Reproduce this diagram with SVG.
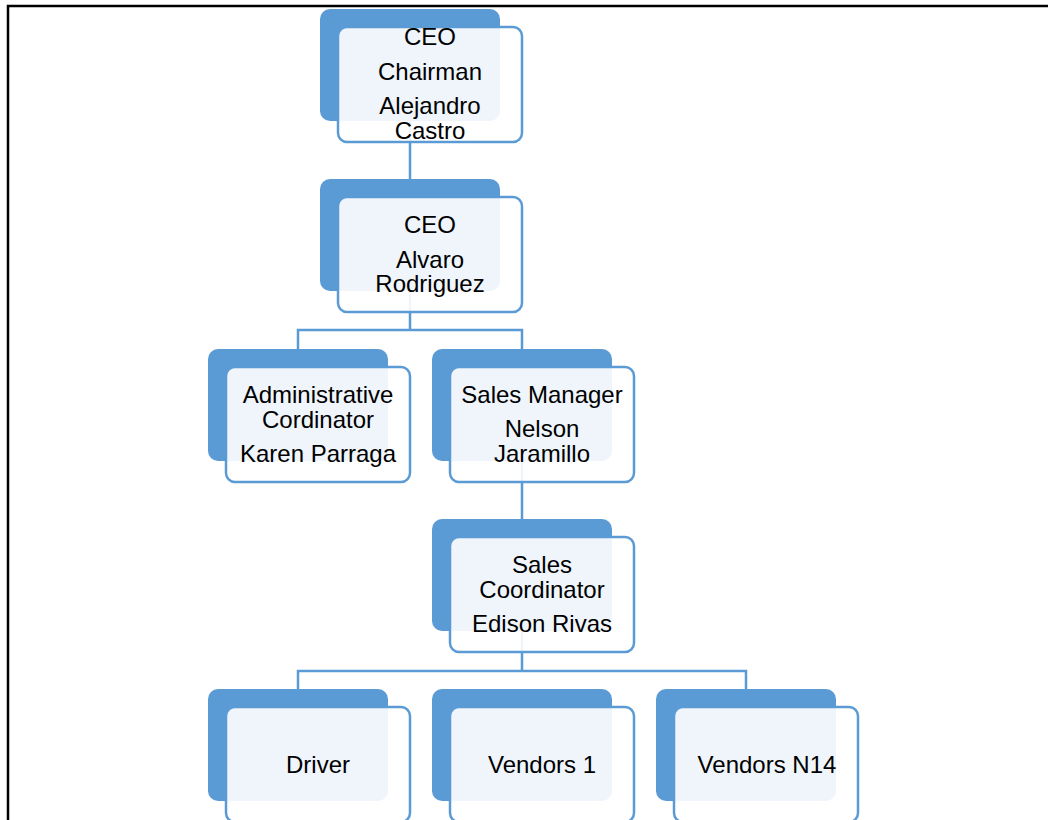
<svg xmlns="http://www.w3.org/2000/svg" width="1048" height="820" viewBox="0 0 1048 820">
<style>
.back{fill:#5B9BD5;}
.front{fill:#ffffff;fill-opacity:0.9;stroke:#5B9BD5;stroke-width:2.5;}
.con{fill:none;stroke:#5B9BD5;stroke-width:2.5;}
text{font-family:"Liberation Sans",Arial,sans-serif;font-size:24px;fill:#000;text-anchor:middle;}
</style>
<rect width="1048" height="820" fill="#fff"/>
<path d="M8 820 V6 H1048" fill="none" stroke="#000" stroke-width="2.5"/>
<g id="connectors">
<path class="con" d="M410 121 V179"/>
<path class="con" d="M410 291 V330 M298 349 V330 H522 V349"/>
<path class="con" d="M522 461 V519"/>
<path class="con" d="M522 631 V671 M298 689 V671 H746 V689"/>
</g>
<g id="n1">
<rect class="back" x="320" y="9" width="180" height="112" rx="10"/>
<rect class="front" x="338" y="27" width="184" height="115" rx="9"/>
<text x="430" y="45">CEO</text>
<text x="430" y="80">Chairman</text>
<text x="430" y="114">Alejandro</text>
<text x="430" y="139">Castro</text>
</g>
<g id="n2">
<rect class="back" x="320" y="179" width="180" height="112" rx="10"/>
<rect class="front" x="338" y="197" width="184" height="115" rx="9"/>
<text x="430" y="233">CEO</text>
<text x="430" y="268">Alvaro</text>
<text x="430" y="292">Rodriguez</text>
</g>
<g id="n3">
<rect class="back" x="208" y="349" width="180" height="112" rx="10"/>
<rect class="front" x="226" y="367" width="184" height="115" rx="9"/>
<text x="318" y="403">Administrative</text>
<text x="318" y="428">Cordinator</text>
<text x="318" y="462">Karen Parraga</text>
</g>
<g id="n4">
<rect class="back" x="432" y="349" width="180" height="112" rx="10"/>
<rect class="front" x="450" y="367" width="184" height="115" rx="9"/>
<text x="542" y="403">Sales Manager</text>
<text x="542" y="437">Nelson</text>
<text x="542" y="462">Jaramillo</text>
</g>
<g id="n5">
<rect class="back" x="432" y="519" width="180" height="112" rx="10"/>
<rect class="front" x="450" y="537" width="184" height="115" rx="9"/>
<text x="542" y="573">Sales</text>
<text x="542" y="598">Coordinator</text>
<text x="542" y="632">Edison Rivas</text>
</g>
<g id="n6">
<rect class="back" x="208" y="689" width="180" height="112" rx="10"/>
<rect class="front" x="226" y="707" width="184" height="115" rx="9"/>
<text x="318" y="773">Driver</text>
</g>
<g id="n7">
<rect class="back" x="432" y="689" width="180" height="112" rx="10"/>
<rect class="front" x="450" y="707" width="184" height="115" rx="9"/>
<text x="542" y="773">Vendors 1</text>
</g>
<g id="n8">
<rect class="back" x="656" y="689" width="180" height="112" rx="10"/>
<rect class="front" x="674" y="707" width="184" height="115" rx="9"/>
<text x="767" y="773">Vendors N14</text>
</g>
</svg>
